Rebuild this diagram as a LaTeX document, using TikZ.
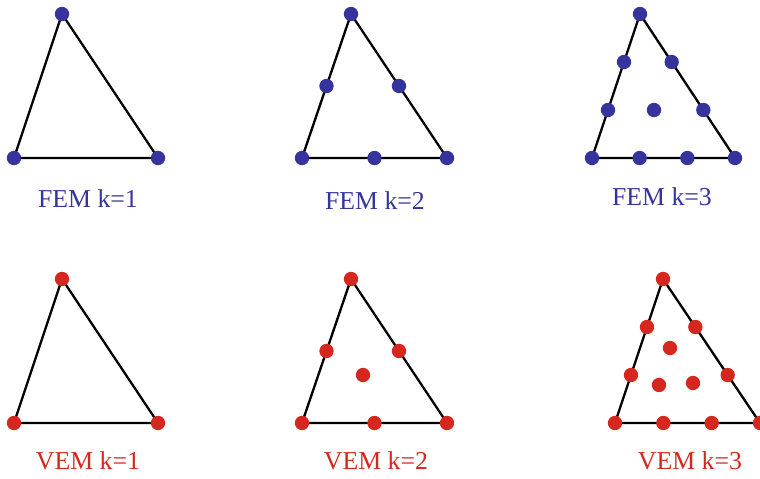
\documentclass[tikz,border=0pt]{standalone}
\usepackage{fontspec}
\setmainfont{Liberation Serif}
\usetikzlibrary{calc, backgrounds}
\definecolor{femblue}{HTML}{34349C}
\definecolor{vemred}{HTML}{D4281E}

\begin{document}
\begin{tikzpicture}[
      x=0.03cm, y=-0.03cm,
      dof/.style={circle, fill=#1, inner sep=0pt, minimum size=0.43cm},
      edge/.style={line width=2pt, line join=miter},
      caption/.style={anchor=base, text=#1, font=\fontsize{22}{26}\selectfont},
    ]
    \path[use as bounding box, clip] (0,0) rectangle (760,478);

    % FEM k=1
    \node[dof=femblue] (f1a) at (62,14) {};
    \node[dof=femblue] (f1b) at (14,158) {};
    \node[dof=femblue] (f1c) at (158,158) {};
    \node[caption=femblue] (f1l) at (88,207) {FEM k=1};

    % FEM k=2
    \node[dof=femblue] (f2a) at (351,14) {};
    \node[dof=femblue] (f2b) at (302,158) {};
    \node[dof=femblue] (f2c) at (447,158) {};
    \node[dof=femblue] (f2ab) at ($(f2a)!0.5!(f2b)$) {};
    \node[dof=femblue] (f2ac) at ($(f2a)!0.5!(f2c)$) {};
    \node[dof=femblue] (f2bc) at ($(f2b)!0.5!(f2c)$) {};
    \node[caption=femblue] (f2l) at (375,209) {FEM k=2};

    % FEM k=3
    \node[dof=femblue] (f3a) at (640,14) {};
    \node[dof=femblue] (f3b) at (592,158) {};
    \node[dof=femblue] (f3c) at (735,158) {};
    \node[dof=femblue] (f3ab1) at ($(f3a)!1/3!(f3b)$) {};
    \node[dof=femblue] (f3ab2) at ($(f3a)!2/3!(f3b)$) {};
    \node[dof=femblue] (f3ac1) at ($(f3a)!1/3!(f3c)$) {};
    \node[dof=femblue] (f3ac2) at ($(f3a)!2/3!(f3c)$) {};
    \node[dof=femblue] (f3bc1) at ($(f3b)!1/3!(f3c)$) {};
    \node[dof=femblue] (f3bc2) at ($(f3b)!2/3!(f3c)$) {};
    \node[dof=femblue] (f3in) at (654,110) {};
    \node[caption=femblue] (f3l) at (662,205) {FEM k=3};

    % VEM k=1
    \node[dof=vemred] (v1a) at (62,279) {};
    \node[dof=vemred] (v1b) at (14,423) {};
    \node[dof=vemred] (v1c) at (158,423) {};
    \node[caption=vemred] (v1l) at (88,469) {VEM k=1};

    % VEM k=2
    \node[dof=vemred] (v2a) at (351,279) {};
    \node[dof=vemred] (v2b) at (302,423) {};
    \node[dof=vemred] (v2c) at (447,423) {};
    \node[dof=vemred] (v2ab) at ($(v2a)!0.5!(v2b)$) {};
    \node[dof=vemred] (v2ac) at ($(v2a)!0.5!(v2c)$) {};
    \node[dof=vemred] (v2bc) at ($(v2b)!0.5!(v2c)$) {};
    \node[dof=vemred] (v2in) at (363,375) {};
    \node[caption=vemred] (v2l) at (376,469) {VEM k=2};

    % VEM k=3
    \node[dof=vemred] (v3a) at (663,279) {};
    \node[dof=vemred] (v3b) at (615,423) {};
    \node[dof=vemred] (v3c) at (760,423) {};
    \node[dof=vemred] (v3ab1) at ($(v3a)!1/3!(v3b)$) {};
    \node[dof=vemred] (v3ab2) at ($(v3a)!2/3!(v3b)$) {};
    \node[dof=vemred] (v3ac1) at ($(v3a)!1/3!(v3c)$) {};
    \node[dof=vemred] (v3ac2) at ($(v3a)!2/3!(v3c)$) {};
    \node[dof=vemred] (v3bc1) at ($(v3b)!1/3!(v3c)$) {};
    \node[dof=vemred] (v3bc2) at ($(v3b)!2/3!(v3c)$) {};
    \node[dof=vemred] (v3in1) at (670,348) {};
    \node[dof=vemred] (v3in2) at (659,385) {};
    \node[dof=vemred] (v3in3) at (693,383) {};
    \node[caption=vemred] (v3l) at (690,469) {VEM k=3};

    \begin{scope}[on background layer]
      \foreach \t in {f1, f2, f3, v1, v2, v3}
        \draw[edge] (\t a.center) -- (\t b.center) -- (\t c.center) -- cycle;
    \end{scope}
  \end{tikzpicture}
\end{document}
